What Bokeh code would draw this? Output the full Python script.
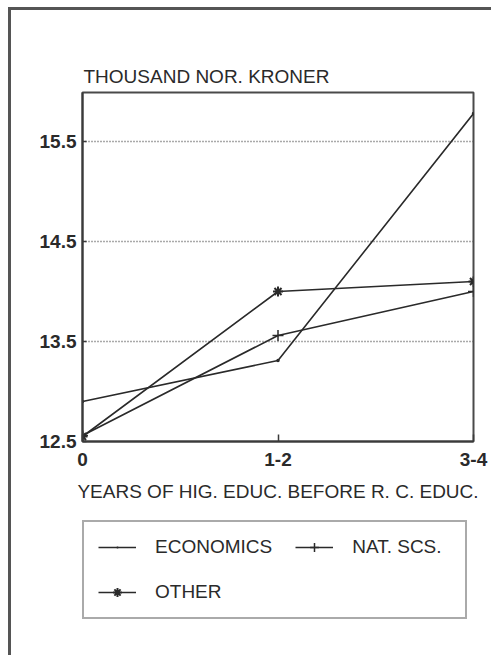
from bokeh.plotting import figure
from bokeh.layouts import column
from bokeh.models import (Legend, LegendItem, FixedTicker, Range1d)
from bokeh.embed import file_html
from bokeh.resources import INLINE

# ---- data ----
categories = ["0", "1-2", "3-4"]
economics = [12.9, 13.31, 15.78]
nat_scs = [12.56, 13.56, 14.0]
other = [12.55, 14.0, 14.1]
y_ticks = [12.5, 13.5, 14.5, 15.5]
y_tick_labels = ["12.5", "13.5", "14.5", "15.5"]
title_text = "THOUSAND NOR. KRONER"
x_label = "YEARS OF HIG. EDUC. BEFORE R. C. EDUC."
series_names = ["ECONOMICS", "NAT. SCS.", "OTHER"]

xs = list(range(len(categories)))
FONT = "Liberation Sans"
INK = "#2a2a2a"

# ---------------- main chart ----------------
p = figure(width=480, height=500, output_backend="svg", toolbar_location=None,
           x_range=Range1d(0, len(categories) - 1), y_range=Range1d(12.5, 15.99),
           min_border_left=71, min_border_right=18, min_border_top=82,
           min_border_bottom=69, title=title_text)

p.background_fill_color = "white"
p.border_fill_color = "white"
p.outline_line_color = "#4a4a4a"
p.outline_line_width = 2

p.title.text_font = FONT
p.title.text_font_size = "19px"
p.title.text_font_style = "normal"
p.title.text_color = INK
p.title.align = "left"
p.title.offset = 1
p.title.standoff = 11

p.xaxis.ticker = FixedTicker(ticks=xs)
p.xaxis.major_label_overrides = {i: c for i, c in enumerate(categories)}
p.yaxis.ticker = FixedTicker(ticks=y_ticks)
p.yaxis.major_label_overrides = {v: s for v, s in zip(y_ticks, y_tick_labels)}
p.xaxis.axis_label = x_label
for ax in (p.xaxis[0], p.yaxis[0]):
    ax.axis_line_color = "#3a3a3a"
    ax.axis_line_width = 2
    ax.major_tick_line_color = "#3a3a3a"
    ax.major_tick_line_width = 1.5
    ax.major_tick_out = 0
    ax.minor_tick_line_color = None
    ax.major_label_text_font = FONT
    ax.major_label_text_font_size = "19px"
    ax.major_label_text_font_style = "bold"
    ax.major_label_text_color = INK
p.xaxis.major_tick_in = 7
p.yaxis.major_tick_in = 4
p.yaxis.major_label_standoff = 6
p.xaxis.major_label_standoff = 11
p.xaxis.axis_label_text_font = FONT
p.xaxis.axis_label_text_font_size = "19px"
p.xaxis.axis_label_text_font_style = "normal"
p.xaxis.axis_label_text_color = INK
p.xaxis.axis_label_standoff = 12

p.xgrid.visible = False
p.ygrid.ticker = FixedTicker(ticks=y_ticks[1:])
p.ygrid.grid_line_color = "#555555"
p.ygrid.grid_line_dash = "1 2"
p.ygrid.grid_line_width = 1.3


def draw_series(fig):
    l1 = fig.line(xs, economics, line_color=INK, line_width=1.6)
    s1 = fig.scatter(xs, economics, marker="dot", size=14, line_color=INK,
                     fill_color=INK, line_width=1.5)
    l2 = fig.line(xs, nat_scs, line_color=INK, line_width=1.6)
    s2 = fig.scatter(xs, nat_scs, marker="cross", size=11, line_color=INK, line_width=1.5)
    l3 = fig.line(xs, other, line_color=INK, line_width=1.6)
    s3 = fig.scatter(xs, other, marker="asterisk", size=10, line_color=INK, line_width=2)
    return [[l1, s1], [l2, s2], [l3, s3]]


draw_series(p)

# ---------------- legend panel (separate canvas) ----------------
q = figure(width=480, height=145, output_backend="svg", toolbar_location=None,
           x_range=Range1d(-20, -19), y_range=Range1d(-20, -19),
           x_axis_location=None, y_axis_location=None,
           min_border_left=50, min_border_right=0, min_border_top=10, min_border_bottom=0)
q.outline_line_color = None
q.xgrid.visible = False
q.ygrid.visible = False
q.background_fill_color = "white"
q.border_fill_color = "white"
rends = draw_series(q)

legend = Legend(items=[LegendItem(label=n, renderers=r) for n, r in zip(series_names, rends)],
                location="top_left", orientation="horizontal", ncols=2)
legend.border_line_color = "#555555"
legend.border_line_width = 2
legend.background_fill_color = "white"
legend.background_fill_alpha = 1
legend.padding = 14
legend.spacing = 23
legend.margin = 0
legend.label_standoff = 19
legend.glyph_width = 38
legend.glyph_height = 22
legend.label_height = 22
legend.label_width = 99
legend.label_text_font = FONT
legend.label_text_font_size = "19px"
legend.label_text_color = INK
q.add_layout(legend)

layout = column(p, q, spacing=0,
                styles={"border-left": "3px solid #555555", "border-top": "3px solid #555555",
                        "margin-left": "8px", "margin-top": "7px"})

open("out.html", "w").write(file_html(layout, INLINE))
